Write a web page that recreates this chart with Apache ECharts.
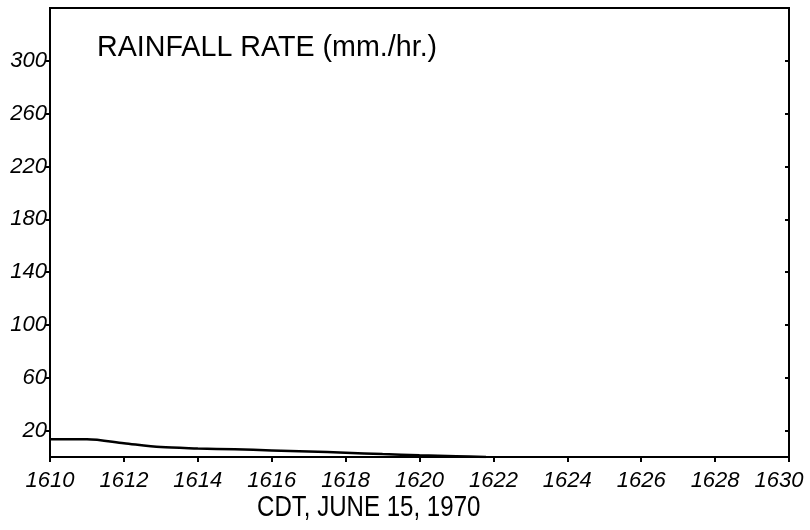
<!DOCTYPE html>
<html><head><meta charset="utf-8">
<script src="https://cdn.jsdelivr.net/npm/echarts@6/dist/echarts.min.js"></script>
<style>html,body{margin:0;padding:0;background:#fff}#c{width:810px;height:530px}</style>
</head><body><div id="c"></div>
<script>
const times = [1610, 1611, 1612, 1613, 1614, 1615, 1616, 1617, 1618, 1619, 1620, 1621, 1621.8];
const rainRate = [13.5, 13.5, 10.5, 7.5, 6.5, 5.8, 5.0, 4.2, 3.2, 2.2, 1.3, 0.6, 0];
const yTicks = [20, 60, 100, 140, 180, 220, 260, 300];
const xTicks = [1610, 1612, 1614, 1616, 1618, 1620, 1622, 1624, 1626, 1628, 1630];
const titleText = 'RAINFALL RATE (mm./hr.)';
const xName = 'CDT, JUNE 15, 1970';

const chart = echarts.init(document.getElementById('c'), null, {renderer: 'canvas'});
const data = times.map((t, i) => [t, rainRate[i]]);
const lastX = xTicks[xTicks.length - 1];
chart.setOption({
  animation: false,
  backgroundColor: '#fff',
  grid: {left: 50, right: 21, top: 8, bottom: 73, outerBoundsMode: 'none', containLabel: false,
         show: true, borderColor: '#000', borderWidth: 2, backgroundColor: 'transparent'},
  xAxis: [{
    type: 'value', min: 1610, max: 1630, interval: 2,
    axisLine: {show: true, onZero: false, lineStyle: {color: '#000', width: 2}},
    axisTick: {show: true, inside: false, length: 5, lineStyle: {color: '#000', width: 2}, customValues: xTicks},
    axisLabel: {color: '#000', fontFamily: 'Liberation Sans', fontStyle: 'italic', fontSize: 22, margin: 13, customValues: xTicks,
      formatter: v => v === lastX ? '{r|' + v + '}' : String(v),
      rich: {r: {color: '#000', fontFamily: 'Liberation Sans', fontStyle: 'italic', fontSize: 22, padding: [0, 20, 0, 0]}}},
    splitLine: {show: false}
  }],
  yAxis: [{
    type: 'value', min: 0, max: 340, position: 'left',
    axisLine: {show: true, lineStyle: {color: '#000', width: 2}},
    axisTick: {show: true, inside: false, length: 4, lineStyle: {color: '#000', width: 2}, customValues: yTicks},
    axisLabel: {color: '#000', fontFamily: 'Liberation Sans', fontStyle: 'italic', fontSize: 22, margin: 3, customValues: yTicks, verticalAlign: 'middle', padding: [0, 0, 6, 0]},
    splitLine: {show: false}
  }, {
    type: 'value', min: 0, max: 340, position: 'right',
    axisLine: {show: true, lineStyle: {color: '#000', width: 2}},
    axisTick: {show: true, inside: true, length: 4, lineStyle: {color: '#000', width: 2}, customValues: yTicks},
    axisLabel: {show: false},
    splitLine: {show: false}
  }],
  graphic: [
    {type: 'text', x: 97, y: 33, scaleX: 0.955, style: {text: titleText, fill: '#000', font: '30px "Liberation Sans"'}},
    {type: 'text', x: 257, y: 493, scaleX: 0.83, style: {text: xName, fill: '#000', font: '29px "Liberation Sans"'}}
  ],
  series: [{
    type: 'line', data: data, showSymbol: false, smooth: 0.3,
    lineStyle: {color: '#000', width: 2.5}
  }]
});
</script></body></html>
